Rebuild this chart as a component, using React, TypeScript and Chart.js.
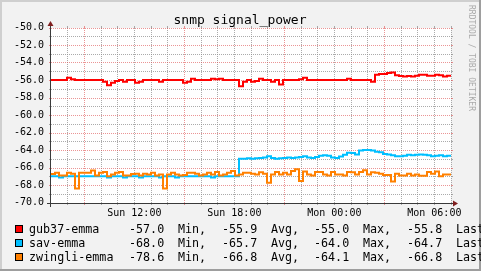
import React, { useEffect, useRef } from 'react';
import { Chart, registerables } from 'chart.js';
Chart.register(...registerables);

// time axis: hours since Sun 07:00, one sample every 0.24 h
const SAMPLE_HOURS = 0.24;
const LABEL_HOURS = [5, 11, 17, 23];
const X_LABELS = ['Sun 12:00', 'Sun 18:00', 'Mon 00:00', 'Mon 06:00'];
const MAJOR_X_HOURS = [2, 8, 14, 20];

const gub37 = [
  -56.0, -56.0, -56.0, -56.0, -55.75, -55.9, -56.0, -56.0, -56.0, -56.0,
  -56.0, -56.0, -56.0, -56.2, -56.6, -56.3, -56.1, -56.0, -56.2, -56.0,
  -56.0, -56.3, -56.2, -56.0, -56.0, -56.0, -56.0, -56.2, -56.0, -56.0,
  -56.0, -56.0, -56.0, -56.3, -56.2, -55.85, -56.0, -56.0, -56.0, -56.0,
  -55.85, -55.9, -55.85, -56.0, -56.0, -56.0, -56.0, -56.7, -56.2, -56.0,
  -56.2, -56.1, -55.85, -56.0, -56.0, -56.2, -56.0, -56.5, -56.0, -56.0,
  -56.0, -56.0, -55.9, -55.75, -56.0, -56.0, -56.0, -56.0, -56.0, -56.0,
  -56.0, -56.0, -56.0, -56.0, -55.85, -56.0, -56.0, -56.0, -56.0, -56.0,
  -56.2, -55.4, -55.3, -55.3, -55.2, -55.15, -55.45, -55.55, -55.6, -55.55,
  -55.6, -55.5, -55.4, -55.4, -55.5, -55.5, -55.4, -55.45, -55.6, -55.5,
];

const sav = [
  -67.0, -67.0, -67.15, -67.0, -67.0, -67.0, -67.0, -67.0, -67.0, -67.0,
  -67.0, -67.0, -67.0, -67.0, -67.15, -67.0, -67.0, -67.0, -67.15, -67.0,
  -67.0, -67.0, -67.15, -67.0, -67.0, -67.0, -67.0, -67.15, -67.0, -67.0,
  -67.0, -67.15, -67.0, -67.0, -67.0, -67.0, -67.0, -67.0, -67.0, -67.0,
  -67.15, -67.0, -67.0, -67.0, -67.0, -67.0, -67.0, -65.0, -65.0, -64.95,
  -65.0, -64.95, -64.9, -64.85, -64.7, -64.9, -65.0, -64.95, -64.9, -64.85,
  -64.9, -64.85, -64.8, -64.7, -64.85, -64.9, -64.8, -64.65, -64.6, -64.65,
  -64.85, -64.9, -64.75, -64.55, -64.3, -64.35, -64.5, -64.05, -64.0, -64.0,
  -64.05, -64.2, -64.25, -64.45, -64.5, -64.6, -64.7, -64.7, -64.65, -64.55,
  -64.6, -64.55, -64.5, -64.55, -64.6, -64.7, -64.65, -64.6, -64.7, -64.65,
];

const zwingli = [
  -66.75, -66.6, -66.9, -66.9, -66.6, -66.7, -68.4, -66.6, -66.6, -66.6,
  -66.35, -66.9, -66.6, -66.5, -67.0, -66.8, -66.6, -66.5, -66.9, -66.9,
  -66.75, -66.7, -66.9, -66.7, -66.8, -66.6, -66.9, -66.8, -68.4, -66.8,
  -66.6, -66.8, -66.9, -66.85, -66.6, -66.6, -66.7, -66.9, -66.8, -66.6,
  -66.8, -66.5, -66.9, -66.8, -66.6, -66.4, -66.9, -66.8, -66.6, -66.6,
  -66.7, -66.8, -66.55, -66.7, -67.75, -66.8, -66.5, -66.8, -66.6, -66.8,
  -66.4, -66.2, -67.55, -66.45, -66.8, -66.9, -66.5, -66.5, -66.8, -66.9,
  -66.5, -66.8, -66.8, -66.9, -66.5, -66.55, -66.8, -66.5, -66.3, -66.8,
  -66.55, -66.6, -66.7, -66.85, -66.85, -67.6, -66.7, -66.9, -66.9, -66.7,
  -66.9, -66.8, -66.95, -66.95, -66.5, -66.7, -66.45, -67.0, -66.8, -66.8,
];

const SERIES_NAMES = ['gub37-emma', 'sav-emma', 'zwingli-emma'];
const SERIES_COLORS = ['#FF0000', '#00BFFF', '#FF8000'];
const MIN_VALUES = ['-57.0', '-68.0', '-78.6'];
const AVG_VALUES = ['-55.9', '-65.7', '-66.8'];
const MAX_VALUES = ['-55.0', '-64.0', '-64.1'];
const LAST_VALUES = ['-55.8', '-64.7', '-66.8'];
const TITLE = 'snmp signal_power';
const WATERMARK = 'RRDTOOL / TOBI OETIKER';

const MONO = '"DejaVu Sans Mono", monospace';
const GRID_MINOR = 'rgba(143,143,143,0.75)';
const GRID_MAJOR = 'rgba(222,79,79,0.6)';

function toPoints(arr: number[]) {
  const pts = arr.map((y, i) => ({ x: i * SAMPLE_HOURS, y }));
  pts.push({ x: arr.length * SAMPLE_HOURS, y: arr[arr.length - 1] });
  return pts;
}

function box(chart: any) {
  const a = chart.chartArea;
  return {
    L: Math.round(a.left),
    R: Math.round(a.right),
    T: Math.ceil(a.top),
    B: Math.ceil(a.bottom),
  };
}

const rrdPlugin = {
  id: 'rrd',
  beforeDraw(chart: any) {
    const ctx = chart.ctx as CanvasRenderingContext2D;
    const W = chart.width, H = chart.height;
    const { L, R, T, B } = box(chart);
    ctx.save();
    ctx.fillStyle = '#F2F2F2';
    ctx.fillRect(0, 0, W, H);
    ctx.fillStyle = '#CFCFCF';
    ctx.fillRect(0, 0, W, 2);
    ctx.fillRect(0, 0, 2, H);
    ctx.fillStyle = '#9E9E9E';
    ctx.fillRect(0, H - 2, W, 2);
    ctx.fillRect(W - 2, 0, 2, H);
    ctx.fillStyle = '#FFFFFF';
    ctx.fillRect(L, T, R - L, B - T);

    const xs = chart.scales.x, ys = chart.scales.y;
    ctx.lineWidth = 1;
    const drawV = (h: number, color: string) => {
      const px = Math.floor(xs.getPixelForValue(h)) + 0.5;
      ctx.strokeStyle = color;
      ctx.setLineDash([]);
      ctx.beginPath();
      ctx.moveTo(px, T - 2); ctx.lineTo(px, T);
      ctx.moveTo(px, B); ctx.lineTo(px, B + 2);
      ctx.stroke();
      ctx.setLineDash([1, 1]);
      ctx.beginPath();
      ctx.moveTo(px, T); ctx.lineTo(px, B);
      ctx.stroke();
    };
    const drawH = (v: number, color: string) => {
      const py = Math.round(ys.getPixelForValue(v)) + 0.5;
      ctx.strokeStyle = color;
      ctx.setLineDash([]);
      ctx.beginPath();
      ctx.moveTo(L - 2, py); ctx.lineTo(L, py);
      ctx.moveTo(R, py); ctx.lineTo(R + 2, py);
      ctx.stroke();
      ctx.setLineDash([1, 1]);
      ctx.beginPath();
      ctx.moveTo(L, py); ctx.lineTo(R, py);
      ctx.stroke();
    };
    for (let h = 1; h <= 24; h++) if (!MAJOR_X_HOURS.includes(h)) drawV(h, GRID_MINOR);
    for (let v = -69; v <= -51; v += 2) drawH(v, GRID_MINOR);
    MAJOR_X_HOURS.forEach((h) => drawV(h, GRID_MAJOR));
    for (let v = -70; v <= -50; v += 2) drawH(v, GRID_MAJOR);
    ctx.restore();
  },
  afterDatasetsDraw(chart: any) {
    const ctx = chart.ctx as CanvasRenderingContext2D;
    const { L, R, T, B } = box(chart);
    ctx.save();
    const ax = L - 0.5;
    const ay = B + 0.5;
    ctx.strokeStyle = '#3A3A3A';
    ctx.lineWidth = 1;
    ctx.setLineDash([]);
    ctx.beginPath();
    ctx.moveTo(L - 4, ay); ctx.lineTo(R + 4, ay);
    ctx.moveTo(ax, B + 4); ctx.lineTo(ax, T - 4);
    ctx.stroke();
    ctx.fillStyle = '#801F1F';
    ctx.beginPath();
    ctx.moveTo(R + 2, ay - 3); ctx.lineTo(R + 2, ay + 3); ctx.lineTo(R + 7, ay);
    ctx.closePath(); ctx.fill();
    ctx.beginPath();
    ctx.moveTo(ax - 3, T - 2); ctx.lineTo(ax + 3, T - 2); ctx.lineTo(ax, T - 7);
    ctx.closePath(); ctx.fill();
    ctx.restore();
  },
  afterDraw(chart: any) {
    const ctx = chart.ctx as CanvasRenderingContext2D;
    ctx.save();
    ctx.fillStyle = '#000000';
    ctx.font = `13px ${MONO}`;
    ctx.textAlign = 'center';
    ctx.textBaseline = 'alphabetic';
    ctx.fillText(TITLE, 240, 24);

    ctx.textAlign = 'left';
    ctx.font = `11.7px ${MONO}`;
    SERIES_NAMES.forEach((name, i) => {
      const base = 233 + i * 14;
      const boxTop = 225 + i * 14;
      ctx.fillStyle = SERIES_COLORS[i];
      ctx.fillRect(15, boxTop, 8, 8);
      ctx.strokeStyle = '#000000';
      ctx.lineWidth = 1;
      ctx.strokeRect(15.5, boxTop + 0.5, 7, 7);
      ctx.fillStyle = '#000000';
      ctx.fillText(name, 29, base);
      ctx.fillText(MIN_VALUES[i], 129, base);
      ctx.fillText('Min,', 178, base);
      ctx.fillText(AVG_VALUES[i], 222, base);
      ctx.fillText('Avg,', 271, base);
      ctx.fillText(MAX_VALUES[i], 314, base);
      ctx.fillText('Max,', 363, base);
      ctx.fillText(LAST_VALUES[i], 407, base);
      ctx.fillText('Last', 456, base);
    });

    ctx.translate(471, 5);
    ctx.rotate(Math.PI / 2);
    ctx.font = `8px ${MONO}`;
    ctx.fillStyle = '#AAAAAA';
    ctx.textBaseline = 'middle';
    ctx.fillText(WATERMARK, 0, 0);
    ctx.restore();
  },
};

export default function App() {
  const ref = useRef<HTMLCanvasElement | null>(null);
  useEffect(() => {
    document.body.style.margin = '0';
    const canvas = ref.current!;
    const datasets = [gub37, sav, zwingli].map((arr, i) => ({
      label: SERIES_NAMES[i],
      data: toPoints(arr),
      borderColor: SERIES_COLORS[i],
      backgroundColor: SERIES_COLORS[i],
      borderWidth: 2,
      pointRadius: 0,
      stepped: 'before' as const,
      fill: false,
      order: 2 - i,
    }));
    const chart = new Chart(canvas, {
      type: 'line',
      data: { datasets },
      options: {
        animation: false,
        responsive: false,
        devicePixelRatio: 1,
        layout: { padding: { left: 0, right: 30, top: 27.5, bottom: 48.5 } },
        plugins: { legend: { display: false }, tooltip: { enabled: false }, title: { display: false } },
        scales: {
          x: {
            type: 'linear',
            min: 0,
            max: 24,
            grid: { display: false, drawTicks: false },
            border: { display: false },
            ticks: {
              stepSize: 1,
              autoSkip: false,
              maxRotation: 0,
              padding: 4.5,
              color: '#000000',
              font: { family: MONO, size: 10 },
              callback: (v: any) => {
                const idx = LABEL_HOURS.indexOf(Number(v));
                return idx >= 0 ? X_LABELS[idx] : '';
              },
            },
            afterFit: (s: any) => { s.height = 20; },
          },
          y: {
            type: 'linear',
            min: -70,
            max: -50,
            grid: { display: false, drawTicks: false },
            border: { display: false },
            ticks: {
              stepSize: 1,
              autoSkip: false,
              padding: 7,
              color: '#000000',
              font: { family: MONO, size: 10 },
              callback: (v: any) => (Math.round(Number(v)) % 2 === 0 ? Number(v).toFixed(1) : ''),
            },
            afterFit: (s: any) => { s.width = 51; },
          },
        },
      },
      plugins: [rrdPlugin],
    });
    return () => chart.destroy();
  }, []);
  return <canvas ref={ref} width={481} height={271} style={{ display: 'block' }} />;
}
